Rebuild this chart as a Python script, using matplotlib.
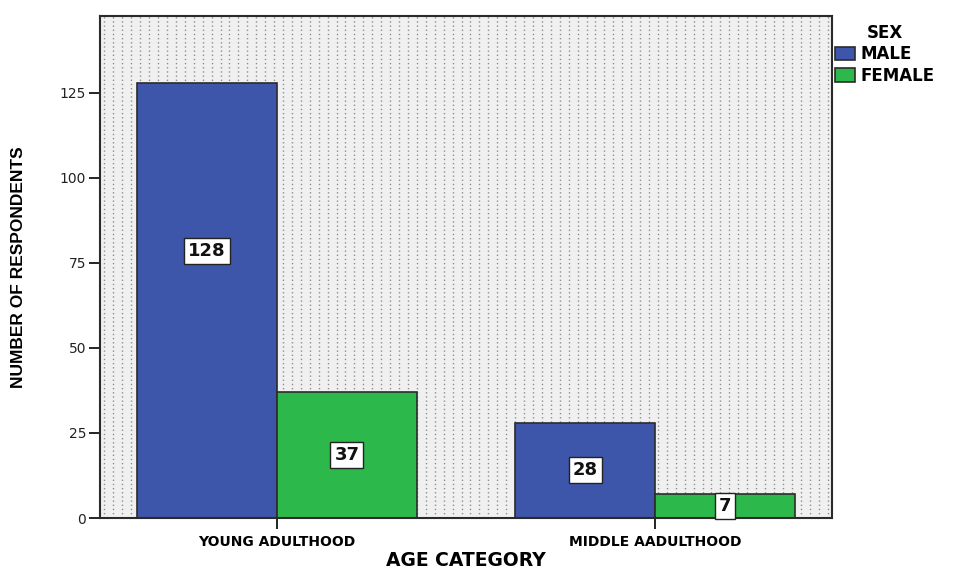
import numpy as np
import matplotlib
matplotlib.use("Agg")
import matplotlib.pyplot as plt
import matplotlib.transforms as mtransforms

# Data
categories = ["YOUNG ADULTHOOD", "MIDDLE AADULTHOOD"]
series_names = ["MALE", "FEMALE"]
male = [128, 28]
female = [37, 7]
y_ticks = [0, 25, 50, 75, 100, 125]

colors = {"MALE": "#3d56a9", "FEMALE": "#2db84b"}
edge = "#2b2b2b"

fig = plt.figure(figsize=(9.57, 5.70), dpi=100)
ax = fig.add_axes([100 / 957, 1 - 518 / 570, 732 / 957, 502 / 570])

# Dotted background texture
ax.set_facecolor("#f0f0f0")
n_lines = 82
xs = (np.arange(n_lines) + 0.5) / n_lines
trans = mtransforms.blended_transform_factory(ax.transAxes, ax.transAxes)
ax.vlines(xs, 0, 1, transform=trans, colors="#8e8e8e",
          linestyles=(0, (1, 2)), linewidth=1.0, zorder=0)

x = np.arange(len(categories))
width = 0.37
series = {"MALE": male, "FEMALE": female}
offsets = {"MALE": -width / 2, "FEMALE": width / 2}
bars = {}
for name in series_names:
    bars[name] = ax.bar(x + offsets[name], series[name], width,
                        color=colors[name], edgecolor=edge, linewidth=1.2,
                        label=name, zorder=2)

# Value labels in white boxes
for name in series_names:
    for i, v in enumerate(series[name]):
        ypos = v / 2
        if v > 100:
            ypos = 78.5
        ax.text(x[i] + offsets[name], ypos, str(v), ha="center", va="center",
                fontsize=13, fontweight="bold", color="#111111", zorder=4,
                bbox=dict(boxstyle="square,pad=0.22", facecolor="white",
                          edgecolor="#222222", linewidth=1.0))

ax.set_xlim(-0.468, 1.468)
ax.set_ylim(0, 147.6)
ax.set_yticks(y_ticks)
ax.set_yticklabels([str(t) for t in y_ticks], fontsize=10, color="#222222")
ax.set_xticks(x)
ax.set_xticklabels(categories, fontsize=10, fontweight="bold")
ax.tick_params(axis="y", direction="out", length=8, width=1.2, pad=2)
ax.tick_params(axis="x", direction="out", length=8, width=1.2, pad=4)

for s in ax.spines.values():
    s.set_linewidth(1.5)
    s.set_color("#2a2a2a")

# Axis titles
fig.text(466 / 957, 1 - 566 / 570, "AGE CATEGORY", ha="center", va="baseline",
         fontsize=13.5, fontweight="bold")
ax.set_ylabel("NUMBER OF RESPONDENTS", fontsize=12.5, fontweight="bold",
              family=["Liberation Sans", "DejaVu Sans"], labelpad=24)

leg = fig.legend(handles=[bars["MALE"], bars["FEMALE"]], labels=series_names,
                 loc="upper left", bbox_to_anchor=(835 / 957, 1 - 24 / 570),
                 frameon=False, title="SEX", fontsize=12,
                 title_fontproperties={"weight": "bold", "size": 12},
                 handlelength=1.2, handleheight=0.85, handletextpad=0.35,
                 labelspacing=0.2, borderpad=0.0, borderaxespad=0.0)
for t in leg.get_texts():
    t.set_fontweight("bold")

fig.savefig("out.png", dpi=100)
